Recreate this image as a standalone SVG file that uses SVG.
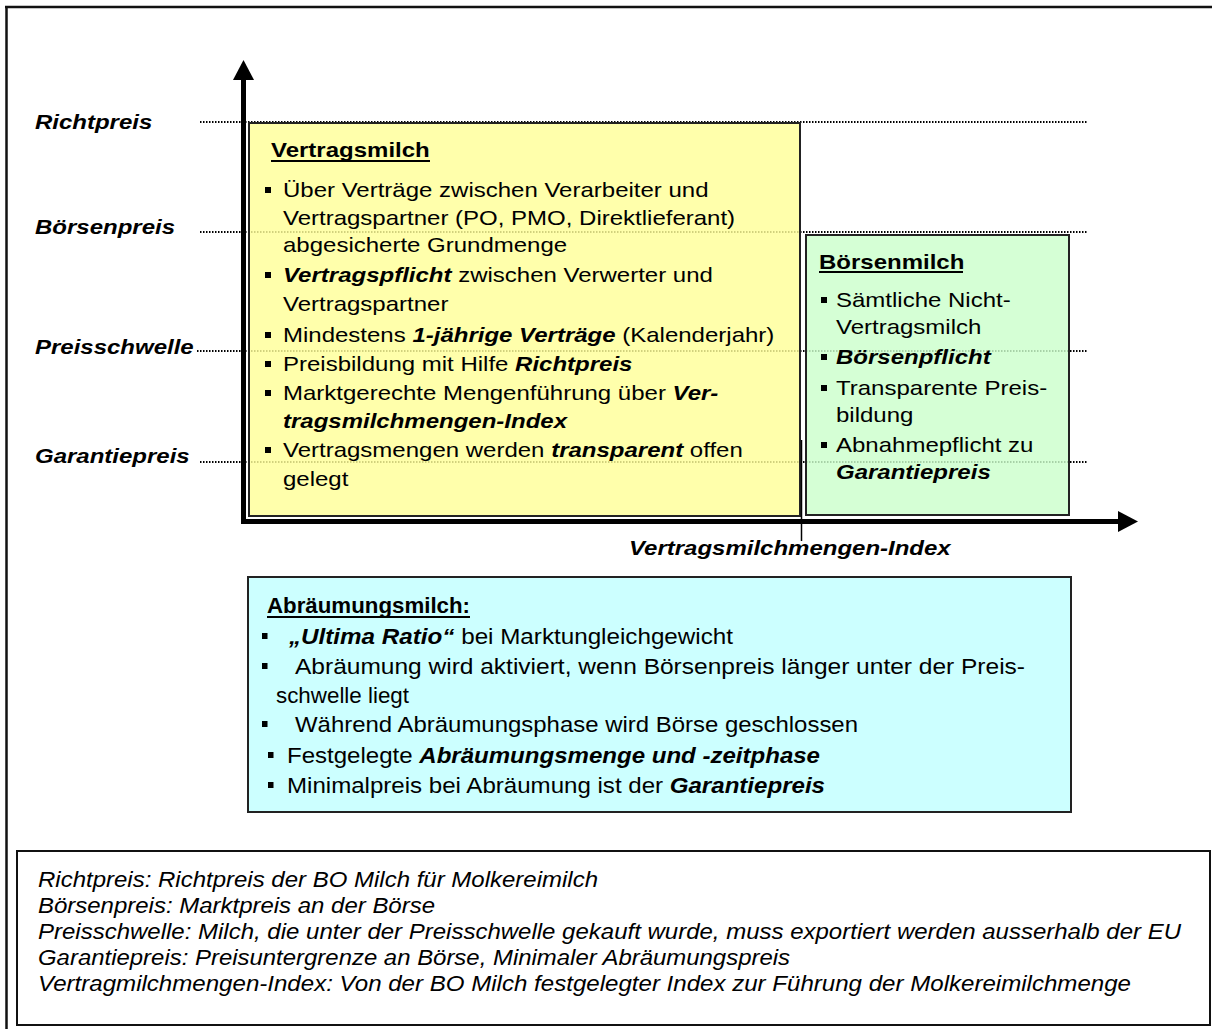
<svg xmlns="http://www.w3.org/2000/svg" width="1212" height="1029" viewBox="0 0 1212 1029">
<defs>
<style>
text{font-family:"Liberation Sans",Arial,sans-serif;font-size:20px;fill:#000}
.t{font-size:21px}
.bi{font-weight:bold;font-style:italic}
.b{font-weight:bold}
.it{font-style:italic}
.c{font-size:22px}
.dot{stroke:#000;stroke-width:2;stroke-dasharray:1.5 1.5;fill:none}
.box{stroke:#222;stroke-width:2}
.ul{stroke:#000;stroke-width:2}
.bul{fill:#000}
</style>
</defs>
<rect x="0" y="0" width="1212" height="1029" fill="#fff"/>
<g id="frame">
<line x1="5" y1="7" x2="1212" y2="7" stroke="#111" stroke-width="2.5"/>
<line x1="6.5" y1="6" x2="6.5" y2="1029" stroke="#111" stroke-width="2.5"/>
</g>
<g id="connectors">
<line class="dot" x1="200" y1="122" x2="1088" y2="122"/>
<line class="dot" x1="200" y1="232" x2="1088" y2="232"/>
<line class="dot" x1="197" y1="351" x2="1088" y2="351"/>
<line class="dot" x1="200" y1="462" x2="1088" y2="462"/>
</g>
<g id="vertragsmilch">
<rect class="box" x="249" y="123" width="551" height="393" fill="#FFFF99" fill-opacity="0.82"/>
<text transform="translate(271,157) scale(1.143,1)" class="t b">Vertragsmilch</text>
<line class="ul" x1="271" y1="161" x2="430" y2="161"/>
<rect class="bul" x="265" y="187" width="6" height="6"/>
<text transform="translate(283,197) scale(1.143,1)" class="t">Über Verträge zwischen Verarbeiter und</text>
<text transform="translate(283,225) scale(1.143,1)" class="t">Vertragspartner (PO, PMO, Direktlieferant)</text>
<text transform="translate(283,252) scale(1.143,1)" class="t">abgesicherte Grundmenge</text>
<rect class="bul" x="265" y="272" width="6" height="6"/>
<text transform="translate(283,282) scale(1.143,1)" class="t"><tspan class="bi">Vertragspflicht</tspan> zwischen Verwerter und</text>
<text transform="translate(283,311) scale(1.143,1)" class="t">Vertragspartner</text>
<rect class="bul" x="265" y="332" width="6" height="6"/>
<text transform="translate(283,342) scale(1.143,1)" class="t">Mindestens <tspan class="bi">1-jährige Verträge</tspan> (Kalenderjahr)</text>
<rect class="bul" x="265" y="361" width="6" height="6"/>
<text transform="translate(283,371) scale(1.143,1)" class="t">Preisbildung mit Hilfe <tspan class="bi">Richtpreis</tspan></text>
<rect class="bul" x="265" y="390" width="6" height="6"/>
<text transform="translate(283,400) scale(1.143,1)" class="t">Marktgerechte Mengenführung über <tspan class="bi">Ver-</tspan></text>
<text transform="translate(283,428) scale(1.143,1)" class="t bi">tragsmilchmengen-Index</text>
<rect class="bul" x="265" y="447" width="6" height="6"/>
<text transform="translate(283,457) scale(1.143,1)" class="t">Vertragsmengen werden <tspan class="bi">transparent</tspan> offen</text>
<text transform="translate(283,486) scale(1.143,1)" class="t">gelegt</text>
</g>
<g id="boersenmilch">
<rect class="box" x="806" y="235" width="263" height="280" fill="#CCFFCC" fill-opacity="0.82"/>
<text transform="translate(819,269) scale(1.143,1)" class="t b">Börsenmilch</text>
<line class="ul" x1="819" y1="272" x2="963" y2="272"/>
<rect class="bul" x="821" y="297" width="6" height="6"/>
<text transform="translate(836,307) scale(1.143,1)" class="t">Sämtliche Nicht-</text>
<text transform="translate(836,334) scale(1.143,1)" class="t">Vertragsmilch</text>
<rect class="bul" x="821" y="354" width="6" height="6"/>
<text transform="translate(836,364) scale(1.143,1)" class="t bi">Börsenpflicht</text>
<rect class="bul" x="821" y="385" width="6" height="6"/>
<text transform="translate(836,395) scale(1.143,1)" class="t">Transparente Preis-</text>
<text transform="translate(836,422) scale(1.143,1)" class="t">bildung</text>
<rect class="bul" x="821" y="442" width="6" height="6"/>
<text transform="translate(836,452) scale(1.143,1)" class="t">Abnahmepflicht zu</text>
<text transform="translate(836,479) scale(1.143,1)" class="t bi">Garantiepreis</text>
</g>
<g id="axes">
<line x1="243.5" y1="524" x2="243.5" y2="78" stroke="#000" stroke-width="5"/>
<polygon points="233,80 254,80 243.5,60" fill="#000"/>
<line x1="241" y1="521.5" x2="1120" y2="521.5" stroke="#000" stroke-width="5"/>
<polygon points="1118,511 1118,532 1138,521.5" fill="#000"/>
<line x1="801.5" y1="440" x2="801.5" y2="541" stroke="#000" stroke-width="1.5"/>
</g>
<g id="labels">
<text transform="translate(35,129) scale(1.2,1)" class="bi">Richtpreis</text>
<text transform="translate(35,234) scale(1.2,1)" class="bi">Börsenpreis</text>
<text transform="translate(35,354) scale(1.2,1)" class="bi">Preisschwelle</text>
<text transform="translate(35,463) scale(1.2,1)" class="bi">Garantiepreis</text>
<text transform="translate(629,555) scale(1.2,1)" class="bi">Vertragsmilchmengen-Index</text>
</g>
<g id="abraeumungsmilch">
<rect class="box" x="248" y="577" width="823" height="235" fill="#CCFFFF"/>
<text x="267" y="613" class="b c" textLength="203" lengthAdjust="spacingAndGlyphs">Abräumungsmilch:</text>
<line class="ul" x1="267" y1="617" x2="470" y2="617"/>
<rect class="bul" x="262" y="633" width="5.5" height="6"/>
<text x="289" y="644" class="c" textLength="444" lengthAdjust="spacingAndGlyphs"><tspan class="bi">„Ultima Ratio“</tspan> bei Marktungleichgewicht</text>
<rect class="bul" x="262" y="663" width="5.5" height="6"/>
<text x="295" y="674" class="c" textLength="730" lengthAdjust="spacingAndGlyphs">Abräumung wird aktiviert, wenn Börsenpreis länger unter der Preis-</text>
<text x="276" y="703" class="c" textLength="133" lengthAdjust="spacingAndGlyphs">schwelle liegt</text>
<rect class="bul" x="262" y="721" width="5.5" height="6"/>
<text x="295" y="732" class="c" textLength="563" lengthAdjust="spacingAndGlyphs">Während Abräumungsphase wird Börse geschlossen</text>
<rect class="bul" x="268" y="752" width="5.5" height="6"/>
<text x="287" y="763" class="c" textLength="533" lengthAdjust="spacingAndGlyphs">Festgelegte <tspan class="bi">Abräumungsmenge und -zeitphase</tspan></text>
<rect class="bul" x="268" y="782" width="5.5" height="6"/>
<text x="287" y="793" class="c" textLength="538" lengthAdjust="spacingAndGlyphs">Minimalpreis bei Abräumung ist der <tspan class="bi">Garantiepreis</tspan></text>
</g>
<g id="legende">
<rect x="17" y="851" width="1193" height="174" fill="#fff" stroke="#111" stroke-width="2"/>
<text x="38" y="887" class="it c" textLength="560" lengthAdjust="spacingAndGlyphs">Richtpreis: Richtpreis der BO Milch für Molkereimilch</text>
<text x="38" y="913" class="it c" textLength="397" lengthAdjust="spacingAndGlyphs">Börsenpreis: Marktpreis an der Börse</text>
<text x="38" y="939" class="it c" textLength="1143" lengthAdjust="spacingAndGlyphs">Preisschwelle: Milch, die unter der Preisschwelle gekauft wurde, muss exportiert werden ausserhalb der EU</text>
<text x="38" y="965" class="it c" textLength="752" lengthAdjust="spacingAndGlyphs">Garantiepreis: Preisuntergrenze an Börse, Minimaler Abräumungspreis</text>
<text x="38" y="991" class="it c" textLength="1093" lengthAdjust="spacingAndGlyphs">Vertragmilchmengen-Index: Von der BO Milch festgelegter Index zur Führung der Molkereimilchmenge</text>
</g>
</svg>
